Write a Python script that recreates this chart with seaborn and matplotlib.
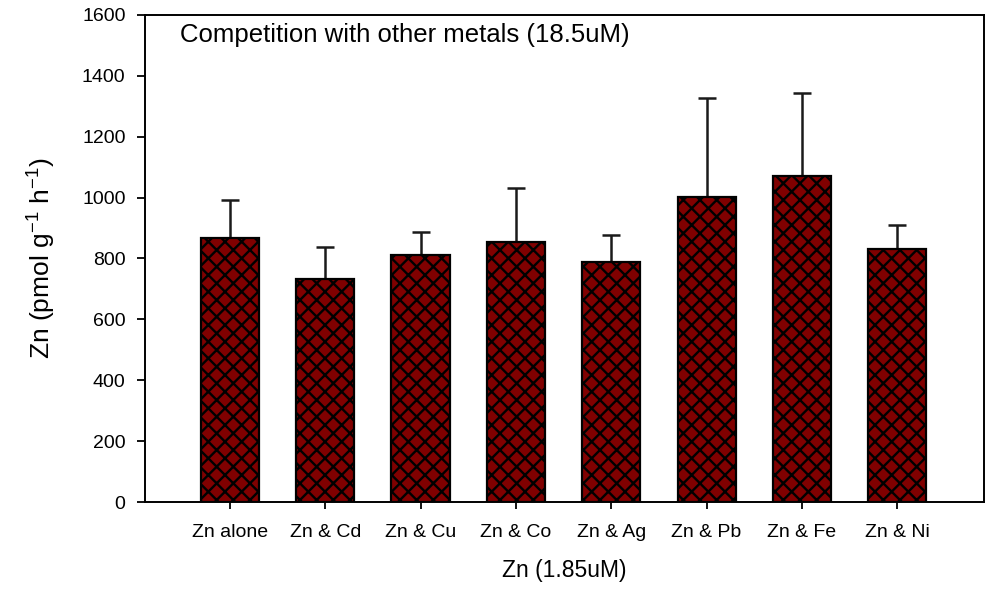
import matplotlib
matplotlib.use("Agg")
import matplotlib.pyplot as plt
import seaborn as sns
import numpy as np
import pandas as pd

# Zn uptake in the presence of competing metals
treatments = ["Zn alone", "Zn & Cd", "Zn & Cu", "Zn & Co",
              "Zn & Ag", "Zn & Pb", "Zn & Fe", "Zn & Ni"]
uptake = [866, 732, 810, 854, 790, 1001, 1071, 830]
uptake_sd = [126, 107, 77, 178, 87, 327, 274, 81]
y_ticks = [0, 200, 400, 600, 800, 1000, 1200, 1400, 1600]

df = pd.DataFrame({"treatment": treatments, "uptake": uptake, "sd": uptake_sd})

sns.set_theme(style="ticks")
plt.rcParams["font.family"] = ["Liberation Sans", "DejaVu Sans"]
plt.rcParams["text.color"] = "black"
plt.rcParams["axes.labelcolor"] = "black"
plt.rcParams["hatch.color"] = "black"
plt.rcParams["hatch.linewidth"] = 1.7

fig = plt.figure(figsize=(9.88, 5.92), dpi=100)
ax = fig.add_axes([0.1468, 0.152, 0.8492, 0.8227])

sns.barplot(data=df, x="treatment", y="uptake", color="#800000",
            saturation=1, width=0.61, errorbar=None,
            edgecolor="black", linewidth=1.6, hatch="xx", ax=ax, zorder=3)

# one-sided (upper) error bars
xpos = np.arange(len(treatments))
ax.errorbar(xpos, df["uptake"], yerr=[np.zeros(len(df)), df["sd"]],
            fmt="none", ecolor="#1a1a1a", elinewidth=1.8,
            capsize=6.5, capthick=1.8, zorder=2)

ax.set_xlim(-0.89, 7.91)
ax.set_ylim(0, 1600)
ax.set_yticks(y_ticks)
ax.set_yticklabels([str(v) for v in y_ticks])

for side in ["left", "right", "top", "bottom"]:
    ax.spines[side].set_visible(True)
    ax.spines[side].set_color("black")
    ax.spines[side].set_linewidth(1.4)

ax.tick_params(axis="y", direction="out", length=6, width=1.3,
               pad=8, labelsize=14, colors="black")
ax.tick_params(axis="x", direction="out", length=5, width=1.3,
               pad=11, labelsize=14, colors="black")

ax.set_xlabel("Zn (1.85uM)", fontsize=16.5, labelpad=13)
ax.set_ylabel(r"Zn (pmol g$^{\mathregular{-1}}$ h$^{\mathregular{-1}}$)",
              fontsize=19, labelpad=18)

ax.text(0.042, 0.959, "Competition with other metals (18.5uM)",
        transform=ax.transAxes, ha="left", va="center", fontsize=18.5)

fig.savefig("out.png", dpi=100)
